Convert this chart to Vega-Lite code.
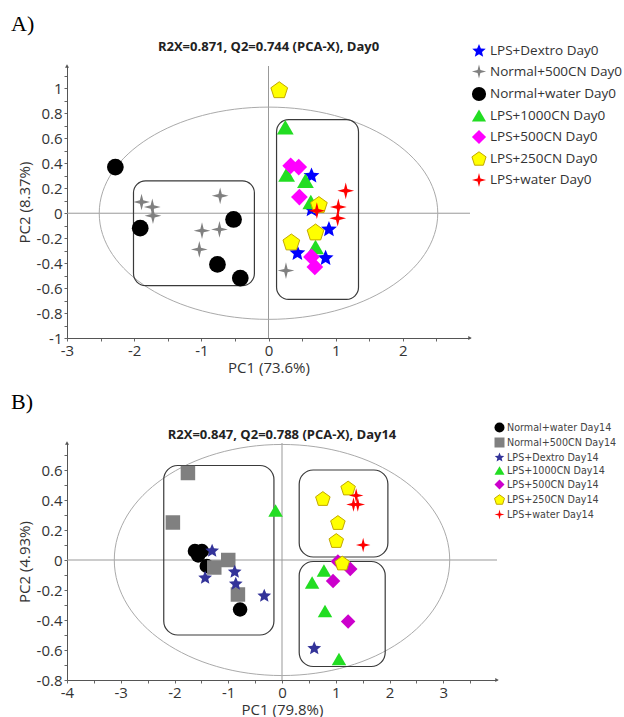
{
  "$schema": "https://vega.github.io/schema/vega-lite/v6.json",
  "padding": {"left": 11, "top": 13, "right": 4, "bottom": 0},
  "spacing": 16,
  "datasets": {
    "ptsA": [
      {"group": "Normal+water Day0", "pc1": -2.28, "pc2": 0.37},
      {"group": "Normal+water Day0", "pc1": -1.91, "pc2": -0.12},
      {"group": "Normal+water Day0", "pc1": -0.52, "pc2": -0.05},
      {"group": "Normal+water Day0", "pc1": -0.76, "pc2": -0.41},
      {"group": "Normal+water Day0", "pc1": -0.42, "pc2": -0.52},
      {"group": "Normal+500CN Day0", "pc1": -1.89, "pc2": 0.09},
      {"group": "Normal+500CN Day0", "pc1": -1.73, "pc2": 0.05},
      {"group": "Normal+500CN Day0", "pc1": -1.72, "pc2": -0.02},
      {"group": "Normal+500CN Day0", "pc1": -0.72, "pc2": 0.14},
      {"group": "Normal+500CN Day0", "pc1": -0.99, "pc2": -0.14},
      {"group": "Normal+500CN Day0", "pc1": -0.73, "pc2": -0.13},
      {"group": "Normal+500CN Day0", "pc1": -1.03, "pc2": -0.29},
      {"group": "Normal+500CN Day0", "pc1": 0.26, "pc2": -0.46},
      {"group": "LPS+Dextro Day0", "pc1": 0.64, "pc2": 0.30},
      {"group": "LPS+Dextro Day0", "pc1": 0.90, "pc2": -0.13},
      {"group": "LPS+Dextro Day0", "pc1": 0.43, "pc2": -0.32},
      {"group": "LPS+Dextro Day0", "pc1": 0.85, "pc2": -0.36},
      {"group": "LPS+Dextro Day0", "pc1": 0.64, "pc2": 0.03},
      {"group": "LPS+1000CN Day0", "pc1": 0.25, "pc2": 0.69},
      {"group": "LPS+1000CN Day0", "pc1": 0.27, "pc2": 0.31},
      {"group": "LPS+1000CN Day0", "pc1": 0.55, "pc2": 0.26},
      {"group": "LPS+1000CN Day0", "pc1": 0.70, "pc2": -0.27},
      {"group": "LPS+1000CN Day0", "pc1": 0.63, "pc2": 0.09},
      {"group": "LPS+500CN Day0", "pc1": 0.33, "pc2": 0.38},
      {"group": "LPS+500CN Day0", "pc1": 0.45, "pc2": 0.37},
      {"group": "LPS+500CN Day0", "pc1": 0.46, "pc2": 0.13},
      {"group": "LPS+500CN Day0", "pc1": 0.64, "pc2": -0.35},
      {"group": "LPS+500CN Day0", "pc1": 0.69, "pc2": -0.43},
      {"group": "LPS+250CN Day0", "pc1": 0.16, "pc2": 0.99},
      {"group": "LPS+250CN Day0", "pc1": 0.75, "pc2": 0.07},
      {"group": "LPS+250CN Day0", "pc1": 0.70, "pc2": -0.15},
      {"group": "LPS+250CN Day0", "pc1": 0.34, "pc2": -0.23},
      {"group": "LPS+water Day0", "pc1": 1.15, "pc2": 0.18},
      {"group": "LPS+water Day0", "pc1": 1.04, "pc2": 0.05},
      {"group": "LPS+water Day0", "pc1": 1.03, "pc2": -0.04},
      {"group": "LPS+water Day0", "pc1": 0.72, "pc2": 0.02}
    ],
    "ptsB": [
      {"group": "Normal+water Day14", "pc1": -1.62, "pc2": 0.06},
      {"group": "Normal+water Day14", "pc1": -1.49, "pc2": 0.06},
      {"group": "Normal+water Day14", "pc1": -1.56, "pc2": 0.03},
      {"group": "Normal+water Day14", "pc1": -1.40, "pc2": -0.04},
      {"group": "Normal+water Day14", "pc1": -0.78, "pc2": -0.33},
      {"group": "Normal+500CN Day14", "pc1": -1.75, "pc2": 0.58},
      {"group": "Normal+500CN Day14", "pc1": -2.03, "pc2": 0.25},
      {"group": "Normal+500CN Day14", "pc1": -1.00, "pc2": 0.00},
      {"group": "Normal+500CN Day14", "pc1": -1.26, "pc2": -0.05},
      {"group": "Normal+500CN Day14", "pc1": -0.82, "pc2": -0.23},
      {"group": "LPS+Dextro Day14", "pc1": -1.30, "pc2": 0.06},
      {"group": "LPS+Dextro Day14", "pc1": -1.43, "pc2": -0.12},
      {"group": "LPS+Dextro Day14", "pc1": -0.88, "pc2": -0.08},
      {"group": "LPS+Dextro Day14", "pc1": -0.86, "pc2": -0.16},
      {"group": "LPS+Dextro Day14", "pc1": -0.33, "pc2": -0.24},
      {"group": "LPS+Dextro Day14", "pc1": 0.60, "pc2": -0.59},
      {"group": "LPS+1000CN Day14", "pc1": -0.12, "pc2": 0.33},
      {"group": "LPS+1000CN Day14", "pc1": 0.78, "pc2": -0.07},
      {"group": "LPS+1000CN Day14", "pc1": 0.56, "pc2": -0.15},
      {"group": "LPS+1000CN Day14", "pc1": 0.80, "pc2": -0.34},
      {"group": "LPS+1000CN Day14", "pc1": 1.06, "pc2": -0.66},
      {"group": "LPS+500CN Day14", "pc1": 1.04, "pc2": -0.01},
      {"group": "LPS+500CN Day14", "pc1": 1.27, "pc2": -0.06},
      {"group": "LPS+500CN Day14", "pc1": 0.95, "pc2": -0.14},
      {"group": "LPS+500CN Day14", "pc1": 1.23, "pc2": -0.41},
      {"group": "LPS+250CN Day14", "pc1": 0.76, "pc2": 0.41},
      {"group": "LPS+250CN Day14", "pc1": 1.23, "pc2": 0.48},
      {"group": "LPS+250CN Day14", "pc1": 1.04, "pc2": 0.25},
      {"group": "LPS+250CN Day14", "pc1": 1.01, "pc2": 0.13},
      {"group": "LPS+250CN Day14", "pc1": 1.12, "pc2": -0.02},
      {"group": "LPS+water Day14", "pc1": 1.38, "pc2": 0.43},
      {"group": "LPS+water Day14", "pc1": 1.41, "pc2": 0.37},
      {"group": "LPS+water Day14", "pc1": 1.33, "pc2": 0.37},
      {"group": "LPS+water Day14", "pc1": 1.51, "pc2": 0.10}
    ],
    "boxA": [
      {"x1": -2.01, "x2": -0.21, "y1": -0.58, "y2": 0.26},
      {"x1": 0.12, "x2": 1.34, "y1": -0.69, "y2": 0.75}
    ],
    "boxB": [
      {"x1": -2.20, "x2": -0.15, "y1": -0.50, "y2": 0.63},
      {"x1": 0.32, "x2": 1.97, "y1": 0.02, "y2": 0.60},
      {"x1": 0.32, "x2": 1.92, "y1": -0.71, "y2": -0.01}
    ],
    "origin": [{"pc1": 0, "pc2": 0}]
  },
  "vconcat": [
    {
      "title": {"text": "A)", "font": "Liberation Serif", "fontSize": 22, "fontWeight": "normal", "anchor": "start", "frame": "bounds", "color": "#000", "offset": 5, "dx": -6},
      "vconcat": [
        {
          "width": 403,
          "height": 272,
          "title": {"text": "R2X=0.871, Q2=0.744 (PCA-X), Day0", "font": "Open Sans", "fontSize": 13, "fontWeight": "bold", "color": "#222", "offset": 10, "anchor": "middle", "frame": "group"},
          "layer": [
            {
              "data": {"name": "origin"},
              "mark": {"type": "rule", "color": "#999", "strokeWidth": 1},
              "encoding": {"x": {"field": "pc1", "type": "quantitative", "scale": {"domain": [-3, 3], "nice": false, "zero": false}}}
            },
            {
              "data": {"name": "origin"},
              "mark": {"type": "rule", "color": "#999", "strokeWidth": 1},
              "encoding": {"y": {"field": "pc2", "type": "quantitative", "scale": {"domain": [-1, 1.18], "nice": false, "zero": false}}}
            },
            {
              "data": {"name": "origin"},
              "mark": {"type": "point", "shape": "M1,0C1,0.3463,0.5523,0.627,0,0.627C-0.5523,0.627,-1,0.3463,-1,0C-1,-0.3463,-0.5523,-0.627,0,-0.627C0.5523,-0.627,1,-0.3463,1,0Z", "size": 114600, "filled": false, "stroke": "#aaa", "strokeWidth": 1, "opacity": 1},
              "encoding": {
                "x": {"field": "pc1", "type": "quantitative", "scale": {"domain": [-3, 3], "nice": false, "zero": false}},
                "y": {"field": "pc2", "type": "quantitative", "scale": {"domain": [-1, 1.18], "nice": false, "zero": false}}
              }
            },
            {
              "data": {"name": "boxA"},
              "mark": {"type": "rect", "filled": false, "stroke": "#3a3a3a", "strokeWidth": 1.2, "cornerRadius": 12},
              "encoding": {
                "x": {"field": "x1", "type": "quantitative", "scale": {"domain": [-3, 3], "nice": false, "zero": false}},
                "x2": {"field": "x2"},
                "y": {"field": "y1", "type": "quantitative", "scale": {"domain": [-1, 1.18], "nice": false, "zero": false}},
                "y2": {"field": "y2"}
              }
            },
            {
              "data": {"name": "ptsA"},
              "mark": {"type": "point", "filled": true, "size": 280, "opacity": 1, "strokeWidth": 1},
              "encoding": {
                "x": {"field": "pc1", "type": "quantitative", "scale": {"domain": [-3, 3], "nice": false, "zero": false},
                  "axis": {"title": "PC1 (73.6%)", "tickCount": 200, "values": [-3, -2.5, -2, -1.5, -1, -0.5, 0, 0.5, 1, 1.5, 2, 2.5], "labelExpr": "datum.value % 1 == 0 ? '' + datum.value : ''", "titlePadding": 2, "labelOverlap": false}},
                "y": {"field": "pc2", "type": "quantitative", "scale": {"domain": [-1, 1.18], "nice": false, "zero": false},
                  "axis": {"title": "PC2 (8.37%)", "tickCount": 200, "values": [-1, -0.9, -0.8, -0.7, -0.6, -0.5, -0.4, -0.3, -0.2, -0.1, 0, 0.1, 0.2, 0.3, 0.4, 0.5, 0.6, 0.7, 0.8, 0.9, 1, 1.1], "labelExpr": "abs(round(datum.value * 10)) % 2 == 0 ? '' + datum.value : ''", "titlePadding": 4, "labelOverlap": false}},
                "fill": {"field": "group", "type": "nominal",
                  "scale": {"domain": ["LPS+Dextro Day0", "Normal+500CN Day0", "Normal+water Day0", "LPS+1000CN Day0", "LPS+500CN Day0", "LPS+250CN Day0", "LPS+water Day0"],
                    "range": ["#0000ff", "#808080", "#000000", "#22dd22", "#ff00ff", "#ffff00", "#ff0000"]},
                  "legend": {"title": null, "orient": "none", "legendX": 404, "legendY": -23, "symbolSize": 200, "labelFont": "Open Sans", "labelFontSize": 13.5, "labelColor": "#333", "rowPadding": 2.5, "labelOffset": 3, "symbolStrokeWidth": 1}},
                "shape": {"field": "group", "type": "nominal",
                  "scale": {"domain": ["LPS+Dextro Day0", "Normal+500CN Day0", "Normal+water Day0", "LPS+1000CN Day0", "LPS+500CN Day0", "LPS+250CN Day0", "LPS+water Day0"],
                    "range": [
                      "M0,-1L0.265,-0.364L0.951,-0.309L0.428,0.139L0.588,0.809L0,0.45L-0.588,0.809L-0.428,0.139L-0.951,-0.309L-0.265,-0.364Z",
                      "M0,-1L0.2,-0.2L1,0L0.2,0.2L0,1L-0.2,0.2L-1,0L-0.2,-0.2Z",
                      "circle",
                      "triangle-up",
                      "diamond",
                      "M0,-0.95L1,-0.23L0.62,0.95L-0.62,0.95L-1,-0.23Z",
                      "M0,-1L0.2,-0.2L1,0L0.2,0.2L0,1L-0.2,0.2L-1,0L-0.2,-0.2Z"
                    ]}},
                "stroke": {"field": "group", "type": "nominal",
                  "scale": {"domain": ["LPS+Dextro Day0", "Normal+500CN Day0", "Normal+water Day0", "LPS+1000CN Day0", "LPS+500CN Day0", "LPS+250CN Day0", "LPS+water Day0"],
                    "range": ["transparent", "transparent", "transparent", "transparent", "transparent", "#c2a800", "transparent"]}}
              }
            },
            {
              "data": {"values": [{"ax": 3, "ay": -1}]},
              "mark": {"type": "point", "shape": "triangle-right", "size": 16, "filled": true, "color": "#555", "opacity": 1},
              "encoding": {
                "x": {"field": "ax", "type": "quantitative", "scale": {"domain": [-3, 3], "nice": false, "zero": false}},
                "y": {"field": "ay", "type": "quantitative", "scale": {"domain": [-1, 1.18], "nice": false, "zero": false}}
              }
            },
            {
              "data": {"values": [{"ax": -3, "ay": 1.18}]},
              "mark": {"type": "point", "shape": "triangle-up", "size": 16, "filled": true, "color": "#555", "opacity": 1},
              "encoding": {
                "x": {"field": "ax", "type": "quantitative", "scale": {"domain": [-3, 3], "nice": false, "zero": false}},
                "y": {"field": "ay", "type": "quantitative", "scale": {"domain": [-1, 1.18], "nice": false, "zero": false}}
              }
            }
          ]
        }
      ]
    },
    {
      "title": {"text": "B)", "font": "Liberation Serif", "fontSize": 22, "fontWeight": "normal", "anchor": "start", "frame": "bounds", "color": "#000", "offset": 8, "dx": -6},
      "vconcat": [
        {
          "width": 430,
          "height": 237,
          "title": {"text": "R2X=0.847, Q2=0.788 (PCA-X), Day14", "font": "Open Sans", "fontSize": 13, "fontWeight": "bold", "color": "#222", "offset": -1, "anchor": "middle", "frame": "group"},
          "layer": [
            {
              "data": {"name": "origin"},
              "mark": {"type": "rule", "color": "#999", "strokeWidth": 1},
              "encoding": {"x": {"field": "pc1", "type": "quantitative", "scale": {"domain": [-4, 4], "nice": false, "zero": false}}}
            },
            {
              "data": {"name": "origin"},
              "mark": {"type": "rule", "color": "#999", "strokeWidth": 1},
              "encoding": {"y": {"field": "pc2", "type": "quantitative", "scale": {"domain": [-0.8, 0.78], "nice": false, "zero": false}}}
            },
            {
              "data": {"name": "origin"},
              "mark": {"type": "point", "shape": "M1,0C1,0.3805,0.5523,0.689,0,0.689C-0.5523,0.689,-1,0.3805,-1,0C-1,-0.3805,-0.5523,-0.689,0,-0.689C0.5523,-0.689,1,-0.3805,1,0Z", "size": 112500, "filled": false, "stroke": "#aaa", "strokeWidth": 1, "opacity": 1},
              "encoding": {
                "x": {"field": "pc1", "type": "quantitative", "scale": {"domain": [-4, 4], "nice": false, "zero": false}},
                "y": {"field": "pc2", "type": "quantitative", "scale": {"domain": [-0.8, 0.78], "nice": false, "zero": false}}
              }
            },
            {
              "data": {"name": "boxB"},
              "mark": {"type": "rect", "filled": false, "stroke": "#3a3a3a", "strokeWidth": 1.2, "cornerRadius": 14},
              "encoding": {
                "x": {"field": "x1", "type": "quantitative", "scale": {"domain": [-4, 4], "nice": false, "zero": false}},
                "x2": {"field": "x2"},
                "y": {"field": "y1", "type": "quantitative", "scale": {"domain": [-0.8, 0.78], "nice": false, "zero": false}},
                "y2": {"field": "y2"}
              }
            },
            {
              "data": {"name": "ptsB"},
              "mark": {"type": "point", "filled": true, "size": 210, "opacity": 1, "strokeWidth": 1},
              "encoding": {
                "x": {"field": "pc1", "type": "quantitative", "scale": {"domain": [-4, 4], "nice": false, "zero": false},
                  "axis": {"title": "PC1 (79.8%)", "tickCount": 200, "values": [-4, -3.5, -3, -2.5, -2, -1.5, -1, -0.5, 0, 0.5, 1, 1.5, 2, 2.5, 3, 3.5], "labelExpr": "datum.value % 1 == 0 ? '' + datum.value : ''", "titlePadding": 2, "labelOverlap": false}},
                "y": {"field": "pc2", "type": "quantitative", "scale": {"domain": [-0.8, 0.78], "nice": false, "zero": false},
                  "axis": {"title": "PC2 (4.93%)", "tickCount": 200, "values": [-0.8, -0.7, -0.6, -0.5, -0.4, -0.3, -0.2, -0.1, 0, 0.1, 0.2, 0.3, 0.4, 0.5, 0.6, 0.7], "labelExpr": "abs(round(datum.value * 10)) % 2 == 0 ? '' + datum.value : ''", "titlePadding": 4, "labelOverlap": false}},
                "fill": {"field": "group", "type": "nominal",
                  "scale": {"domain": ["Normal+water Day14", "Normal+500CN Day14", "LPS+Dextro Day14", "LPS+1000CN Day14", "LPS+500CN Day14", "LPS+250CN Day14", "LPS+water Day14"],
                    "range": ["#000000", "#808080", "#333399", "#22dd22", "#cc00cc", "#ffff00", "#ff0000"]},
                  "legend": {"title": null, "orient": "none", "legendX": 427, "legendY": -21, "symbolSize": 100, "labelFont": "DejaVu Sans", "labelFontSize": 9.6, "labelColor": "#444", "rowPadding": 0, "labelOffset": 2, "symbolStrokeWidth": 1}},
                "shape": {"field": "group", "type": "nominal",
                  "scale": {"domain": ["Normal+water Day14", "Normal+500CN Day14", "LPS+Dextro Day14", "LPS+1000CN Day14", "LPS+500CN Day14", "LPS+250CN Day14", "LPS+water Day14"],
                    "range": [
                      "circle",
                      "square",
                      "M0,-1L0.265,-0.364L0.951,-0.309L0.428,0.139L0.588,0.809L0,0.45L-0.588,0.809L-0.428,0.139L-0.951,-0.309L-0.265,-0.364Z",
                      "triangle-up",
                      "diamond",
                      "M0,-0.95L1,-0.23L0.62,0.95L-0.62,0.95L-1,-0.23Z",
                      "M0,-1L0.2,-0.2L1,0L0.2,0.2L0,1L-0.2,0.2L-1,0L-0.2,-0.2Z"
                    ]}},
                "stroke": {"field": "group", "type": "nominal",
                  "scale": {"domain": ["Normal+water Day14", "Normal+500CN Day14", "LPS+Dextro Day14", "LPS+1000CN Day14", "LPS+500CN Day14", "LPS+250CN Day14", "LPS+water Day14"],
                    "range": ["transparent", "transparent", "transparent", "transparent", "transparent", "#c2a800", "transparent"]}}
              }
            },
            {
              "data": {"values": [{"ax": 4, "ay": -0.8}]},
              "mark": {"type": "point", "shape": "triangle-right", "size": 16, "filled": true, "color": "#555", "opacity": 1},
              "encoding": {
                "x": {"field": "ax", "type": "quantitative", "scale": {"domain": [-4, 4], "nice": false, "zero": false}},
                "y": {"field": "ay", "type": "quantitative", "scale": {"domain": [-0.8, 0.78], "nice": false, "zero": false}}
              }
            },
            {
              "data": {"values": [{"ax": -4, "ay": 0.78}]},
              "mark": {"type": "point", "shape": "triangle-up", "size": 16, "filled": true, "color": "#555", "opacity": 1},
              "encoding": {
                "x": {"field": "ax", "type": "quantitative", "scale": {"domain": [-4, 4], "nice": false, "zero": false}},
                "y": {"field": "ay", "type": "quantitative", "scale": {"domain": [-0.8, 0.78], "nice": false, "zero": false}}
              }
            }
          ]
        }
      ]
    }
  ],
  "resolve": {"scale": {"fill": "independent", "shape": "independent", "stroke": "independent"}},
  "config": {
    "view": {"stroke": null},
    "axis": {"grid": false, "domainColor": "#555", "tickColor": "#666", "tickSize": 3, "labelFont": "Open Sans", "labelFontSize": 15, "labelColor": "#333", "titleFont": "Open Sans", "titleFontSize": 15, "titleFontWeight": "normal", "titleColor": "#333", "labelPadding": 2, "labelOverlap": false, "labelFlush": false}
  }
}
